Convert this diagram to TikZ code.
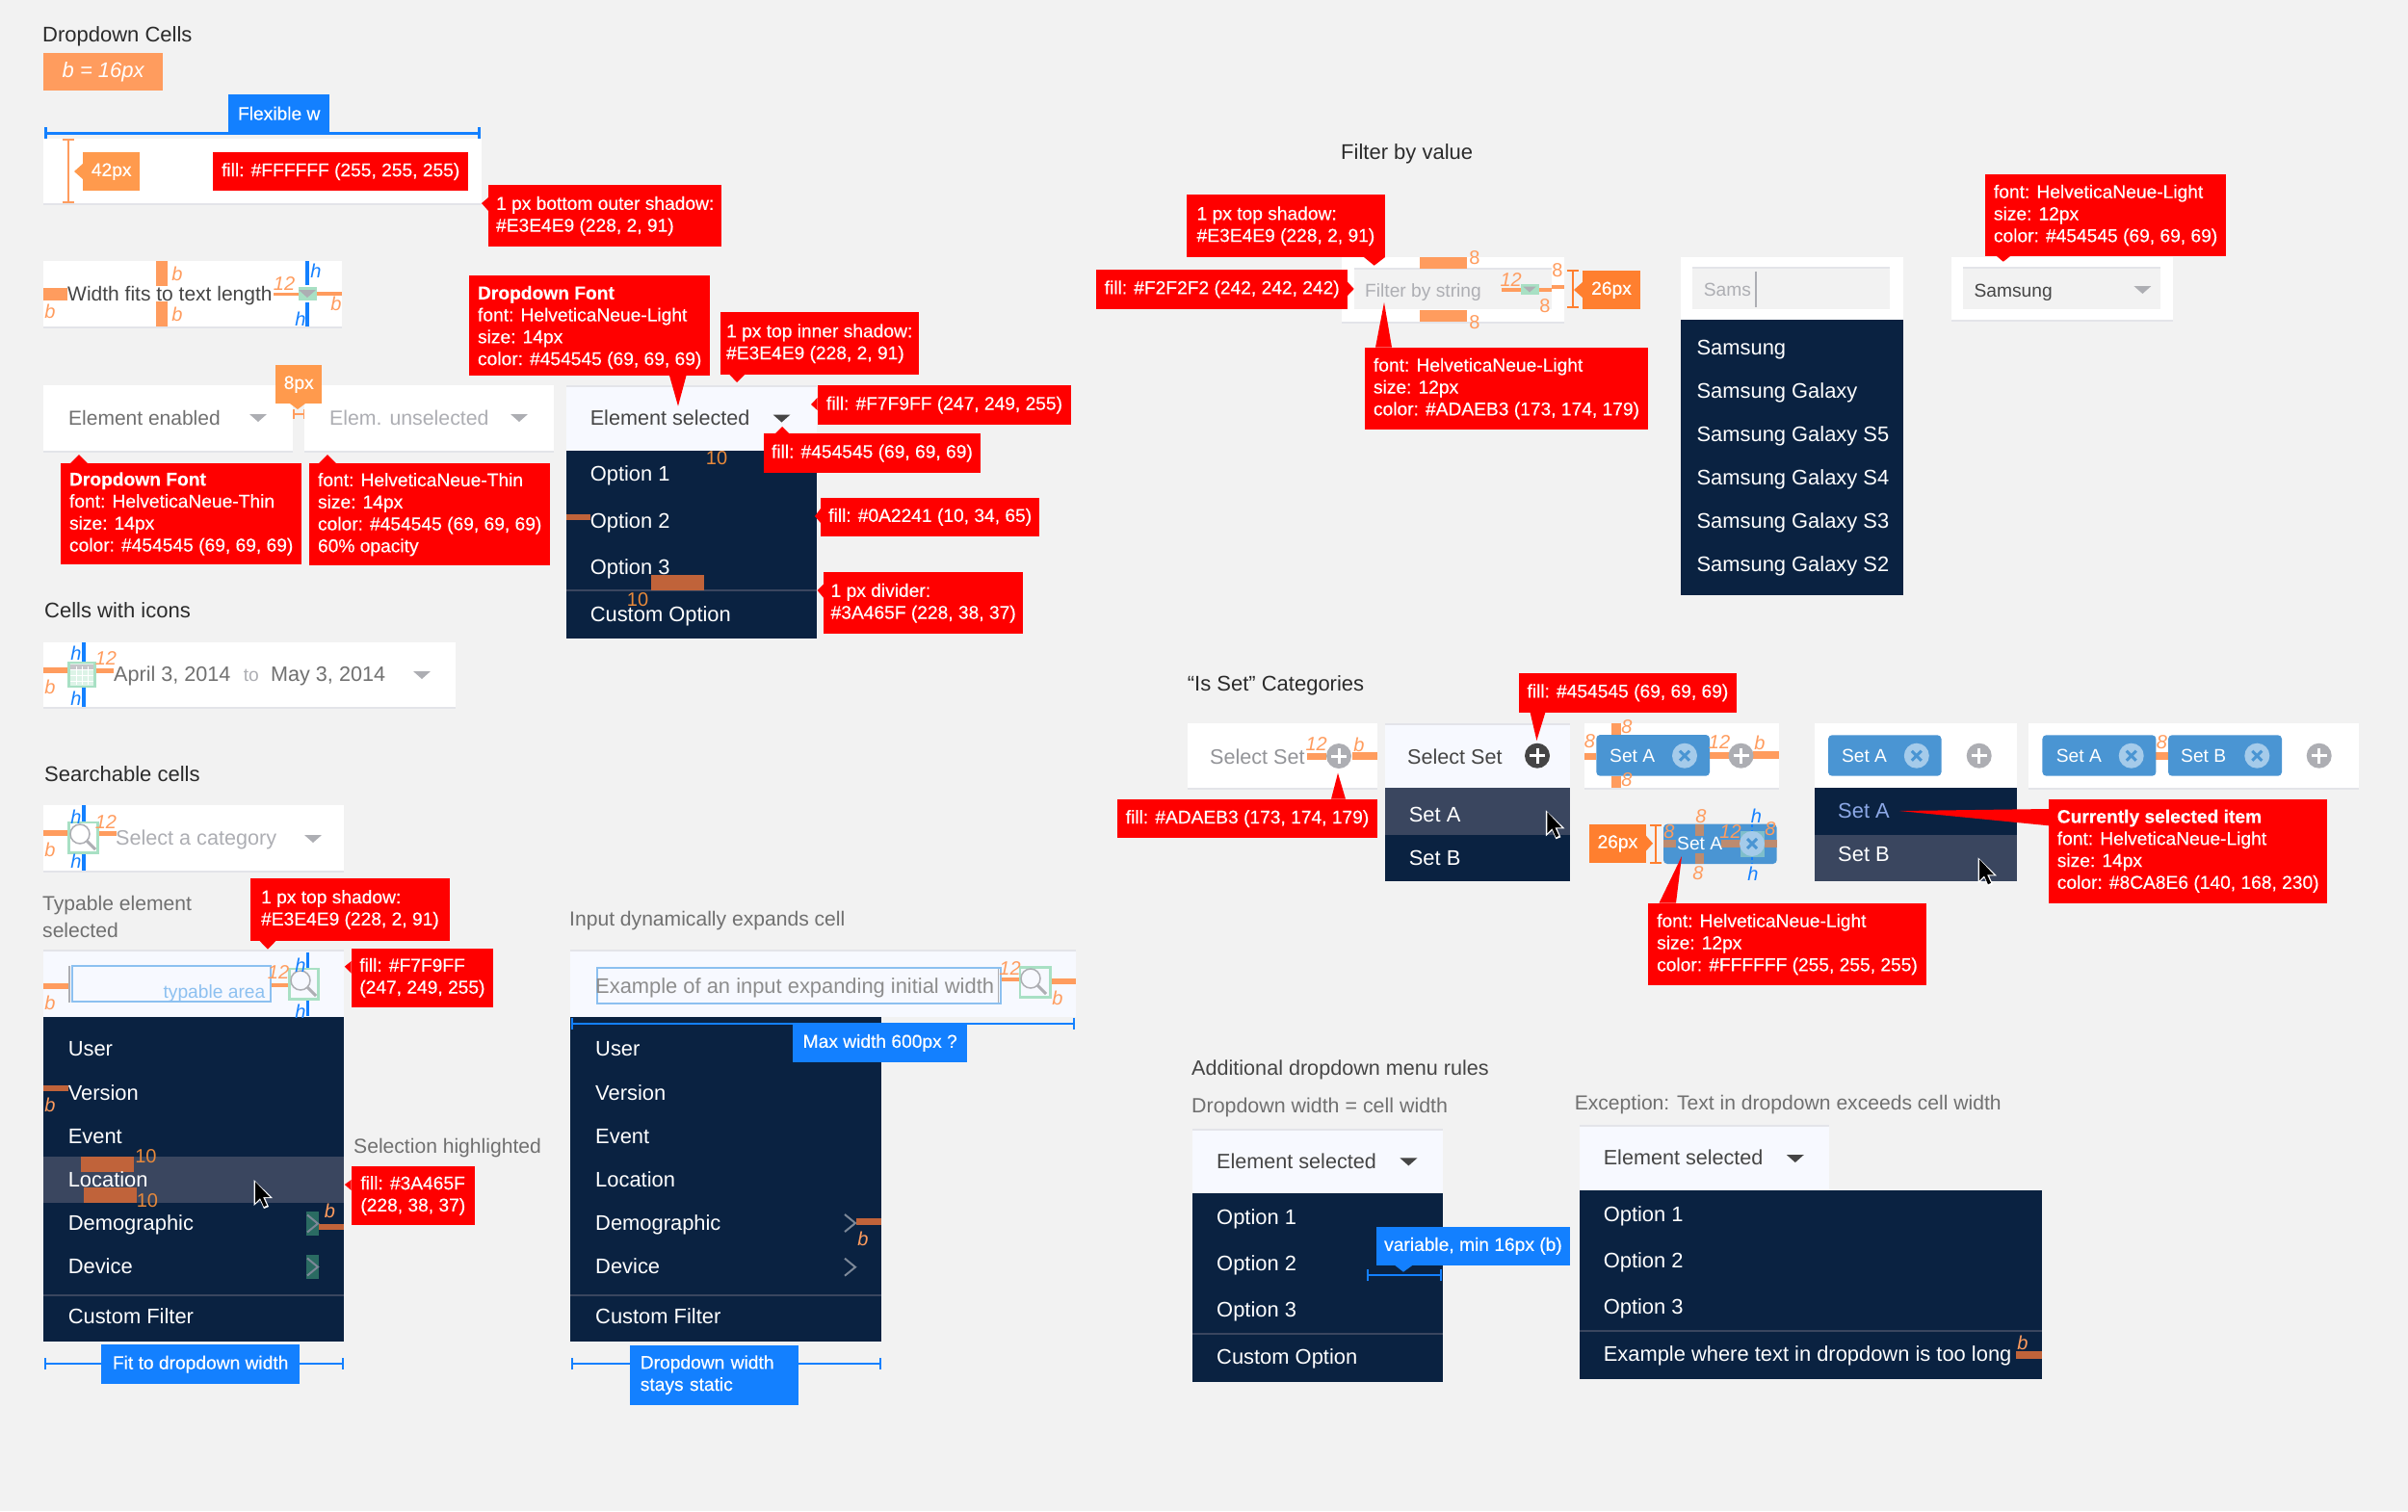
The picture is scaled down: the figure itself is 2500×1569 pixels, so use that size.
\documentclass[tikz,border=0pt]{standalone}
\usepackage{fontspec}
\setmainfont{Liberation Sans}
\newfontfamily\tagfont[FakeBold=0.25]{Liberation Sans}
\usetikzlibrary{arrows.meta}
\definecolor{pagegray}{HTML}{F2F2F2}
\definecolor{shadowgray}{HTML}{E3E4E9}
\definecolor{selfill}{HTML}{F7F9FF}
\definecolor{menunavy}{HTML}{0A2241}
\definecolor{hilite}{HTML}{3A465F}
\definecolor{barlight}{HTML}{FF9C5E}
\definecolor{bardark}{HTML}{C0633A}
\definecolor{tagorange}{HTML}{FF9A4D}
\definecolor{tagdeep}{HTML}{FF7F2F}
\definecolor{tagblue}{HTML}{1380FF}
\definecolor{inkdark}{HTML}{454545}
\definecolor{inkgray}{HTML}{ADAEB3}
\definecolor{inktitle}{HTML}{2B2B2B}
\definecolor{inkmid}{HTML}{707070}
\definecolor{inputblue}{HTML}{8CC0F0}
\definecolor{chipblue}{HTML}{4A95D3}
\definecolor{chipx}{HTML}{A5CBEA}
\definecolor{icongreen}{HTML}{A8E0C4}
\definecolor{deepgreen}{HTML}{2A6B62}
\definecolor{chevgray}{HTML}{7C8898}
\definecolor{selitem}{HTML}{8CA8E6}
\definecolor{fieldgray}{HTML}{F2F2F2}
\definecolor{tenorange}{HTML}{E8893A}
\newcommand{\fsbig}{\fontsize{21.6}{26}\selectfont}
\newcommand{\fssmall}{\fontsize{19.2}{22.8}\selectfont}
\tikzset{
  sized/.style 2 args={minimum width=#1pt,minimum height=#2pt},
  redbox/.style={fill=red,text=white,anchor=north west,align=left,inner sep=0pt,font=\fssmall\tagfont},
  bluebox/.style={fill=tagblue,text=white,anchor=north west,align=left,inner sep=0pt,font=\fssmall\tagfont},
  tagbox/.style={fill=tagorange,text=white,anchor=north west,inner sep=0pt,font=\fssmall\tagfont},
  txt/.style={anchor=west,inner sep=0pt,xshift=-1pt,font=\fsbig,text height=18pt,text depth=4pt},
  smalltxt/.style={anchor=west,inner sep=0pt,font=\fssmall,text height=17pt,text depth=4pt},
  heading/.style={txt,xshift=0pt,font=\fontsize{22}{26}\selectfont,text=inktitle},
  subhead/.style={txt,xshift=0pt,font=\fontsize{21.1}{26}\selectfont,text=inkmid},
  menutxt/.style={txt,font=\fontsize{21.9}{26}\selectfont,text=white},
  bmark/.style={inner sep=0pt,font=\fontsize{20}{24}\selectfont\itshape,text=barlight},
  hmark/.style={inner sep=0pt,font=\fontsize{20}{24}\selectfont\itshape,text=tagblue},
  eightmark/.style={inner sep=0pt,font=\fontsize{20}{24}\selectfont,text=barlight},
  tenmark/.style={inner sep=0pt,font=\fontsize{20}{24}\selectfont,text=tenorange},
  shadowline/.style={draw=shadowgray,line width=2pt},
  dimline/.style={draw=barlight,line width=2pt,arrows={Bar[width=12pt]-Bar[width=12pt]}},
  blueline/.style={draw=tagblue,line width=2pt,arrows={Bar[width=12pt]-Bar[width=12pt]}},
  blueside/.style={draw=tagblue,line width=3.5pt},
  divline/.style={draw=hilite,line width=2pt},
  greenbox/.style={fill=icongreen},
  greenframe/.style={draw=icongreen,line width=2.5pt},
  caretmark/.pic={\fill[#1] (-9,-4) -- (9,-4) -- (0,4) -- cycle;},
  plussign/.pic={\fill[#1] (0,0) circle (13pt);
    \draw[white,line width=3pt] (-8,0) -- (8,0) (0,-8) -- (0,8);},
  xsign/.pic={\fill[chipx] (0,0) circle (13pt);
    \draw[chipblue,line width=3pt] (-5,-5) -- (5,5) (-5,5) -- (5,-5);},
  magnifier/.pic={\draw[inkgray,line width=1.5pt] (-3,-3) circle (10pt);
    \draw[inkgray,line width=3pt] (4,4) -- (13,13);},
  chevron/.pic={\draw[chevgray,line width=2pt] (-6,-9) -- (5,0) -- (-6,9);},
  pointer/.pic={\fill[white] (-1.5,-2) -- (-1.5,25) -- (5,19) -- (9,28) -- (14,26) -- (10,17) -- (18,17) -- cycle;
    \fill[black] (0,0) -- (0,22) -- (5,17) -- (9,26) -- (12,24.5) -- (8,16) -- (15,16) -- cycle;}
}
\begin{document}
\begin{tikzpicture}[x=1pt,y=-1pt]
  \path[use as bounding box,fill=pagegray] (0,0) rectangle (2500,1569);

  \foreach \xa/\ya/\xb/\yb/\ss in {45/143.5/500/211/1,45/271/355/339/1,45/400/304/468/1,316/400/575/468/1,45/667/473/734/1,45/836/357/904/1,1393/267/1624/334/1,1233/751/1430/818/1,1645/751/1847/818/1,2106/751/2449/818/1,1745/267/1976/332/0,2026/267/2256/332/1,1884/751/2094/818/0}{
    \fill[white] (\xa,\ya) rectangle (\xb,\yb);
    \ifnum\ss=1 \draw[shadowline] (\xa,\yb+1) -- (\xb,\yb+1); \fi
  }
  \foreach \xa/\ya/\xb/\yb in {588/401/848/468,45/987/357/1056,592/987/1117/1056,1438/752/1630/818,1238/1173/1498/1239,1640/1169/1899/1236}{
    \fill[selfill] (\xa,\ya) rectangle (\xb,\yb);
    \draw[shadowline] (\xa,\ya) -- (\xb,\ya);
  }
  \foreach \xa/\ya/\xb/\yb in {1406/279/1611/321,1757/278/1962/321,2038/278/2243/321}{
    \fill[fieldgray] (\xa,\ya) rectangle (\xb,\yb);
    \draw[shadowline] (\xa,\ya) -- (\xb,\ya);
  }
  \foreach \xa/\ya/\xb/\yb in {588/468/848/663,45/1056/357/1393,592/1056/915/1392.5,1745/332/1976/618,1438/818/1630/915,1884/818/2094/915,1238/1239/1498/1435,1640/1236/2119.5/1431.7}{
    \fill[menunavy] (\xa,\ya) rectangle (\xb,\yb);
  }
  \fill[hilite] (45,1201) rectangle (357,1249);
  \fill[hilite] (1438,818) rectangle (1630,866.7);
  \fill[hilite] (1884,866.7) rectangle (2094,915);
  \draw[divline] (588,613.3) -- (848,613.3);
  \draw[divline] (45,1345) -- (357,1345);
  \draw[divline] (592,1345) -- (915,1345);
  \draw[divline] (1238,1385.3) -- (1498,1385.3);
  \draw[divline] (1640,1382.3) -- (2119.5,1382.3);

  \foreach \xa/\ya/\xb/\yb in {45/298.5/70/311.5,162/271/174/297,162/313/174/339,284/303.5/310/306.5,329/303/355/307,
    45/692.7/71/699,98/694/117.5/699,45/862/71/868.3,101.4/863/121/868,45/1020.7/71/1026.8,280.5/1020.5/300.4/1024.5,
    1039/1014.5/1058.6/1019,1090.7/1015.7/1117/1021.8,1473.6/266.7/1523/279,1473.6/321.7/1523/334,1559/298.7/1578.5/302.7,1598/298.7/1611/302.7,1611/295.7/1623.6/300,
    1356.6/781.7/1376.8/789,1404/781/1430/789,1673/750.7/1682.6/763,1673/805.7/1682.6/818,1644.5/781.7/1657.3/789,1775/781/1795/788,1820/780/1846.5/788,2238.4/781/2251/789}{
    \fill[barlight] (\xa,\ya) rectangle (\xb,\yb);
  }
  \foreach \xa/\ya/\xb/\yb in {588/534/613/540,676/597/731/613,45/1126.8/71/1132.9,84/1201/139/1217,87/1233/142/1249,330.6/1270.7/357/1276.8,889/1265/915/1272,2093/1402.7/2119.5/1410.7}{
    \fill[bardark] (\xa,\ya) rectangle (\xb,\yb);
  }

  \node[heading] (celltitle) at (45,36) {Dropdown Cells};
  \node[tagbox,fill=barlight,sized={124}{39},font=\fontsize{22}{26}\selectfont\itshape] (bsize) at (45,55) {b = 16px};
  \draw[blueline,line width=3pt] (46,138) -- (499,138);
  \node[bluebox,sized={105}{39}] (flexw) at (237,98) {Flexible w};
  \draw[dimline] (71,144) -- (71,211);
  \node[tagbox,sized={59}{40}] (tall) at (86,158) {42px};
  \fill[tagorange] (86,170) -- (77,178) -- (86,186) -- cycle;

  \node[txt,font=\fontsize{21}{26}\selectfont,text=inkdark] (fitstext) at (71,305) {Width fits to text length};
  \draw[blueside] (319,271) -- (319,296) (319,314) -- (319,339);
  \fill[greenbox] (310,298) rectangle (329,312);
  \pic at (319,305) {caretmark=inkgray};

  \node[txt,font=\fontsize{21}{26}\selectfont,text=inkmid] (enabledtext) at (72,434) {Element enabled};
  \pic at (268,434) {caretmark=inkgray};
  \node[txt,font=\fontsize{21.3}{26}\selectfont,text=inkgray] (unseltext) at (343,434) {Elem. unselected};
  \pic at (539,434) {caretmark=inkgray};
  \draw[draw=barlight,line width=1.5pt,arrows={Bar[width=10pt]-Bar[width=10pt]}] (304,430) -- (316,430);
  \node[tagbox,sized={48}{40}] (gap) at (286,379) {8px};
  \fill[tagorange] (301,419) -- (309,425) -- (317,419) -- cycle;
  \node[txt,text=inkdark] (seltext) at (613.6,434.7) {Element selected};
  \pic at (811.5,434.5) {caretmark=inkdark};
  \foreach \lab/\yy [count=\i] in {Option 1/492.7,Option 2/541,Option 3/589.7,Custom Option/638}
    \node[menutxt] (opta\i) at (613.6,\yy) {\lab};

  \node[heading] (icontitle) at (47,634.7) {Cells with icons};
  \draw[blueside] (87,667) -- (87,688) (87,713) -- (87,734);
  \draw[greenframe,fill=icongreen!40] (71.6,688) rectangle (98.4,713);
  \fill[inkgray!70] (73,689.5) rectangle (97,695);
  \foreach \gx in {79,85,91} \draw[white,line width=1pt] (\gx,692) -- (\gx,711);
  \foreach \gy in {695,701,707} \draw[white,line width=1pt] (73,\gy) -- (97,\gy);
  \node[txt,text=inkmid] (datea) at (119,700.7) {April 3, 2014};
  \node[smalltxt,text=inkgray] (dateto) at (252.6,701) {to};
  \node[txt,text=inkmid] (dateb) at (282,700.7) {May 3, 2014};
  \pic at (438,701) {caretmark=inkgray};

  \node[heading] (searchtitle) at (47,804) {Searchable cells};
  \draw[blueside] (87,836) -- (87,854) (87,886) -- (87,904);
  \draw[greenframe] (71.6,854) rectangle (101.4,885.7);
  \pic at (86,869) {magnifier};
  \node[txt,text=inkgray] (catetext) at (121,870.7) {Select a category};
  \pic at (325,871) {caretmark=inkgray};

  \node[subhead] (typea) at (45,938) {Typable element};
  \node[subhead] (typeb) at (45,966) {selected};
  \draw[inkgray,line width=1.5pt] (72,1002.5) -- (72,1041);
  \draw[inputblue,line width=2pt] (75,1003) rectangle (280.5,1040);
  \node[smalltxt,anchor=east,text=inputblue] (typearea) at (275.5,1029.6) {typable area};
  \draw[blueside] (319.6,988.6) -- (319.6,1006) (319.6,1037.5) -- (319.6,1055);
  \draw[greenframe] (300.4,1006) rectangle (330.6,1037.5);
  \pic at (315,1021) {magnifier};
  \foreach \lab/\yy [count=\i] in {User/1089.6,Version/1135,Event/1180,Location/1225,Demographic/1270.7,Device/1315.7,Custom Filter/1367}
    \node[menutxt] (typeitem\i) at (71.6,\yy) {\lab};
  \foreach \yy in {1258,1303}{
    \fill[deepgreen] (318,\yy) rectangle (330.6,\yy+25);
    \pic at (325,\yy+12.5) {chevron};
  }
  \pic at (265,1227) {pointer};
  \node[subhead] (selhigh) at (368,1190) {Selection highlighted};
  \draw[blueline] (45.5,1416.4) -- (356.5,1416.4);
  \node[bluebox,sized={206}{41}] (fitwidth) at (105,1396) {Fit to dropdown width};

  \node[subhead] (expand) at (592,954.6) {Input dynamically expands cell};
  \draw[inkgray,line width=1pt] (1036,1004.6) -- (1036,1042);
  \draw[inputblue,line width=2pt] (620,1004.6) rectangle (1038.6,1042);
  \node[txt,font=\fontsize{21.9}{26}\selectfont,text=inkmid!80] (expandinput) at (619,1024) {Example of an input expanding initial width};
  \draw[greenframe] (1059,1004.6) rectangle (1090.7,1035.4);
  \pic at (1073,1019) {magnifier};
  \foreach \lab/\yy [count=\i] in {User/1089.6,Version/1135,Event/1180,Location/1225,Demographic/1270.7,Device/1315.7,Custom Filter/1367}
    \node[menutxt] (expitem\i) at (619,\yy) {\lab};
  \pic at (883,1270) {chevron};
  \pic at (883,1315.7) {chevron};
  \draw[blueline] (593,1063) -- (1116,1063);
  \node[bluebox,sized={181}{39.5}] (maxwidth) at (823,1063) {Max width 600px ?};
  \draw[blueline] (592.5,1416.4) -- (914.5,1416.4);
  \node[bluebox,sized={175.4}{62.2},inner xsep=11pt,text width=153.4pt] (staticw) at (653.6,1396.4) {Dropdown width\\stays static};

  \node[heading] (filtertitle) at (1393,158.7) {Filter by value};
  \node[smalltxt,text=inkgray] (filterstr) at (1417,302) {Filter by string};
  \fill[greenbox] (1578.5,295) rectangle (1598,306);
  \pic[scale=.75] at (1588,300.5) {caretmark=inkgray};
  \draw[draw=tagdeep,line width=2pt,arrows={Bar[width=12pt]-Bar[width=12pt]}] (1632.5,280) -- (1632.5,320.3);
  \node[tagbox,fill=tagdeep,sized={59.6}{40}] (fieldh) at (1643,281) {26px};
  \fill[tagdeep] (1643,293) -- (1634,301) -- (1643,309) -- cycle;
  \node[smalltxt,text=inkgray] (samsq) at (1768.7,301.3) {Sams};
  \draw[inkgray,line width=1.5pt] (1823,281.7) -- (1823,319);
  \foreach \lab/\yy [count=\i] in {Samsung/361,Samsung Galaxy/406,Samsung Galaxy S5/451,Samsung Galaxy S4/496,Samsung Galaxy S3/541.3,Samsung Galaxy S2/586.7}
    \node[menutxt] (samitem\i) at (1762.4,\yy) {\lab};
  \node[smalltxt,text=inkdark] (samval) at (2049.4,301.7) {Samsung};
  \pic at (2224.4,301) {caretmark=inkgray};

  \node[heading] (settitle) at (1233.6,710.7) {“Is Set” Categories};
  \node[txt,text=inkgray!85!black] (seta) at (1257,786) {Select Set};
  \pic at (1390,785) {plussign=inkgray};
  \node[txt,text=inkdark] (setb) at (1462,786) {Select Set};
  \pic at (1596,784.7) {plussign=inkdark};
  \node[menutxt] (setmenua) at (1463.6,846) {Set A};
  \node[menutxt] (setmenub) at (1463.6,891) {Set B};
  \pic at (1606.4,843.3) {pointer};

  \fill[chipblue,rounded corners=4pt] (1657.3,763) rectangle (1775,805.7);
  \node[smalltxt,text=white] (chipa) at (1671,785) {Set A};
  \pic at (1749,784.7) {xsign};
  \pic at (1807.5,784.7) {plussign=inkgray};

  \fill[chipblue,rounded corners=4pt] (1727,855.7) rectangle (1844.7,897);
  \foreach \xa/\ya/\xb/\yb in {1759.7/855.7/1769.4/868.3,1759.7/885.7/1769.4/897,1727/871.7/1740/880,1787/872/1806.6/880,1832/872/1844.7/880}{
    \fill[barlight!75!chipblue!90!black] (\xa,\ya) rectangle (\xb,\yb);
  }
  \fill[icongreen!55!chipblue] (1806.6,863) rectangle (1832,890);
  \node[smalltxt,text=white] (chipb) at (1741,876) {Set A};
  \pic at (1819,876) {xsign};
  \draw[tagblue,line width=2pt,dashed] (1819,855.7) -- (1819,863) (1819,890) -- (1819,897);
  \draw[draw=tagdeep,line width=2pt,arrows={Bar[width=12pt]-Bar[width=12pt]}] (1719.3,855.7) -- (1719.3,896.7);
  \node[tagbox,fill=tagdeep,sized={59.3}{40}] (chiph) at (1649.5,855.7) {26px};
  \fill[tagdeep] (1708.8,867.7) -- (1716,875.7) -- (1708.8,883.7) -- cycle;

  \fill[chipblue,rounded corners=4pt] (1898,763.3) rectangle (2015.5,805.7);
  \node[smalltxt,text=white] (chipc) at (1911.8,785.3) {Set A};
  \pic at (1989.8,784.7) {xsign};
  \pic at (2054.7,784.7) {plussign=inkgray};
  \node[menutxt,text=selitem] (curra) at (1909,842.7) {Set A};
  \node[menutxt] (currb) at (1909,887.7) {Set B};
  \pic at (2055,892.3) {pointer};
  \fill[chipblue,rounded corners=4pt] (2120.4,763.3) rectangle (2238.4,805.7);
  \node[smalltxt,text=white] (chipd) at (2134.7,785.3) {Set A};
  \pic at (2212.7,784.7) {xsign};
  \fill[chipblue,rounded corners=4pt] (2251,763.3) rectangle (2369,805.7);
  \node[smalltxt,text=white] (chipe) at (2264,785.3) {Set B};
  \pic at (2343.3,784.7) {xsign};
  \pic at (2407.7,784.7) {plussign=inkgray};

  \node[subhead,font=\fontsize{21.6}{26}\selectfont,text=inkdark] (rulestitle) at (1238,1109.3) {Additional dropdown menu rules};
  \node[subhead,font=\fontsize{21.4}{26}\selectfont] (rulesub) at (1238,1148.3) {Dropdown width = cell width};
  \node[subhead] (rulesexc) at (1635.6,1145) {Exception: Text in dropdown exceeds cell width};
  \node[txt,text=inkdark] (rulecella) at (1264,1206) {Element selected};
  \pic at (1462.4,1206.4) {caretmark=inkdark};
  \foreach \lab/\yy [count=\i] in {Option 1/1264.3,Option 2/1312.3,Option 3/1360.7,Custom Option/1409.3}
    \node[menutxt] (ruleitem\i) at (1264,\yy) {\lab};
  \draw[blueline] (1419,1324.3) -- (1497,1324.3);
  \fill[tagblue] (1448,1313.7) -- (1457,1320.7) -- (1466.6,1313.7) -- cycle;
  \node[bluebox,sized={200.9}{40}] (minwidth) at (1428.8,1273.7) {variable, min 16px (b)};
  \node[txt,text=inkdark] (rulecellb) at (1665.6,1202.7) {Element selected};
  \pic at (1863.8,1203) {caretmark=inkdark};
  \foreach \lab/\yy [count=\i] in {Option 1/1261,Option 2/1309.3,Option 3/1357.7,Example where text in dropdown is too long/1406}
    \node[menutxt] (longitem\i) at (1665.6,\yy) {\lab};

  \foreach \px/\py/\lab [count=\i] in {52/323/b,184/284/b,184/326/b,349/315/b,295/295/12,52/713/b,110/684/12,52/882.7/b,110/854/12,52/1041/b,289/1010/12,52/1147.5/b,342.5/1257/b,1048.6/1005.7/12,1098/1036/b,896/1286/b,1568.7/290.7/12,1366.7/773/12,1411/773/b,1785/771/12,1827/771.7/b,1689/755/8,1689/810/8,1650.5/770/8,1766/847.7/8,1763/906.7/8,1733/864/8,1796.5/864/12,1838/861/8,2244.5/770.7/8,2100/1394/b}
    \node[bmark] (bmk\i) at (\px,\py) {\lab};
  \foreach \px/\py [count=\i] in {328/281,312/331,79/678,79/725,79/848,79/894.7,312/1002,312/1050,1823.5/847.7,1820/907.7}
    \node[hmark] (hmk\i) at (\px,\py) {h};
  \foreach \px/\py [count=\i] in {1531/268,1531/335,1604/318,1617/281}
    \node[eightmark] (egt\i) at (\px,\py) {8};
  \foreach \px/\py [count=\i] in {744/476,662/622.7,151.5/1200.7,153/1247}
    \node[tenmark] (ten\i) at (\px,\py) {10};

  \node[redbox,sized={265}{40}] (fillwhite) at (221,158) {fill: \#FFFFFF (255, 255, 255)};
  \node[redbox,sized={242}{64}] (bottomshadow) at (507,192) {1 px bottom outer shadow:\\\#E3E4E9 (228, 2, 91)};
  \fill[red] (507,205) -- (500,211) -- (507,219) -- cycle;
  \node[redbox,sized={250}{104.5}] (lightfont) at (487,285.5) {\rule{0pt}{18pt}\textbf{Dropdown Font}\\font: HelveticaNeue-Light\\size: 14px\\color: \#454545 (69, 69, 69)};
  \fill[red] (695,390) -- (704,421.7) -- (712.5,390) -- cycle;
  \node[redbox,sized={206}{65}] (topinner) at (747.5,324) {1 px top inner shadow:\\\#E3E4E9 (228, 2, 91)};
  \fill[red] (757.5,389) -- (765,397) -- (773,389) -- cycle;
  \node[redbox,sized={250}{104.5}] (thinfont) at (63,481) {\textbf{Dropdown Font}\\font: HelveticaNeue-Thin\\size: 14px\\color: \#454545 (69, 69, 69)};
  \fill[red] (73,481) -- (82,472) -- (91,481) -- cycle;
  \node[redbox,sized={250}{106}] (thinopacity) at (321,481) {font: HelveticaNeue-Thin\\size: 14px\\color: \#454545 (69, 69, 69)\\60\% opacity};
  \fill[red] (331,481) -- (340,472) -- (349,481) -- cycle;
  \node[redbox,sized={263.4}{40.7}] (fillsel) at (848.6,400) {fill: \#F7F9FF (247, 249, 255)};
  \fill[red] (848.6,413) -- (842,420) -- (848.6,426) -- cycle;
  \node[redbox,sized={225.5}{40.7}] (filltri) at (792.5,450) {fill: \#454545 (69, 69, 69)};
  \fill[red] (805,450) -- (812,443) -- (819,450) -- cycle;
  \node[redbox,sized={227}{40}] (fillmenu) at (852,516.7) {fill: \#0A2241 (10, 34, 65)};
  \fill[red] (852,528) -- (846,536) -- (852,543) -- cycle;
  \node[redbox,sized={207}{64}] (divider) at (855,594) {1 px divider:\\\#3A465F (228, 38, 37)};
  \fill[red] (855,606.7) -- (848.6,613) -- (855,620.7) -- cycle;
  \node[redbox,sized={206.5}{64.4}] (typeshadow) at (260,912) {1 px top shadow:\\\#E3E4E9 (228, 2, 91)};
  \fill[red] (269,976.4) -- (278,985.7) -- (287,976.4) -- cycle;
  \node[redbox,sized={147}{61}] (filltype) at (364.7,984.6) {fill: \#F7F9FF\\(247, 249, 255)};
  \fill[red] (364.7,998) -- (357.8,1003.6) -- (364.7,1010.7) -- cycle;
  \node[redbox,sized={127.8}{61.3}] (fillhigh) at (364.7,1210.7) {fill: \#3A465F\\(228, 38, 37)};
  \fill[red] (364.7,1225) -- (357.8,1230) -- (364.7,1236) -- cycle;
  \node[redbox,sized={206.3}{65}] (filtershadow) at (1231.6,202) {1 px top shadow:\\\#E3E4E9 (228, 2, 91)};
  \fill[red] (1416,267) -- (1426.7,275.7) -- (1438,267) -- cycle;
  \node[redbox,sized={261}{40.3}] (fillfilter) at (1138,280) {fill: \#F2F2F2 (242, 242, 242)};
  \fill[red] (1399,292.7) -- (1405.7,300) -- (1399,307) -- cycle;
  \node[redbox,sized={293.6}{85.3}] (filterfont) at (1417,360.7) {font: HelveticaNeue-Light\\size: 12px\\color: \#ADAEB3 (173, 174, 179)};
  \fill[red] (1428,360.7) -- (1437,314) -- (1445,360.7) -- cycle;
  \node[redbox,sized={250.2}{85.3}] (samfont) at (2060.8,180.7) {font: HelveticaNeue-Light\\size: 12px\\color: \#454545 (69, 69, 69)};
  \fill[red] (2073,266) -- (2079.8,271.7) -- (2087,266) -- cycle;
  \node[redbox,sized={269.6}{40.3}] (fillplus) at (1160,829.7) {fill: \#ADAEB3 (173, 174, 179)};
  \fill[red] (1382,829.7) -- (1389,802.7) -- (1397,829.7) -- cycle;
  \node[redbox,sized={225.4}{40.3}] (filldark) at (1577,699) {fill: \#454545 (69, 69, 69)};
  \fill[red] (1588.5,739.3) -- (1595.4,769) -- (1604.5,739.3) -- cycle;
  \node[redbox,sized={288.6}{85.3}] (chipfont) at (1711,937.7) {font: HelveticaNeue-Light\\size: 12px\\color: \#FFFFFF (255, 255, 255)};
  \fill[red] (1722.5,937.7) -- (1746,889) -- (1740,937.7) -- cycle;
  \node[redbox,sized={289}{108.4}] (currentitem) at (2127,829.3) {\textbf{Currently selected item}\\font: HelveticaNeue-Light\\size: 14px\\color: \#8CA8E6 (140, 168, 230)};
  \fill[red] (2127,840) -- (1972,842) -- (2127,857.3) -- cycle;
\end{tikzpicture}
\end{document}
